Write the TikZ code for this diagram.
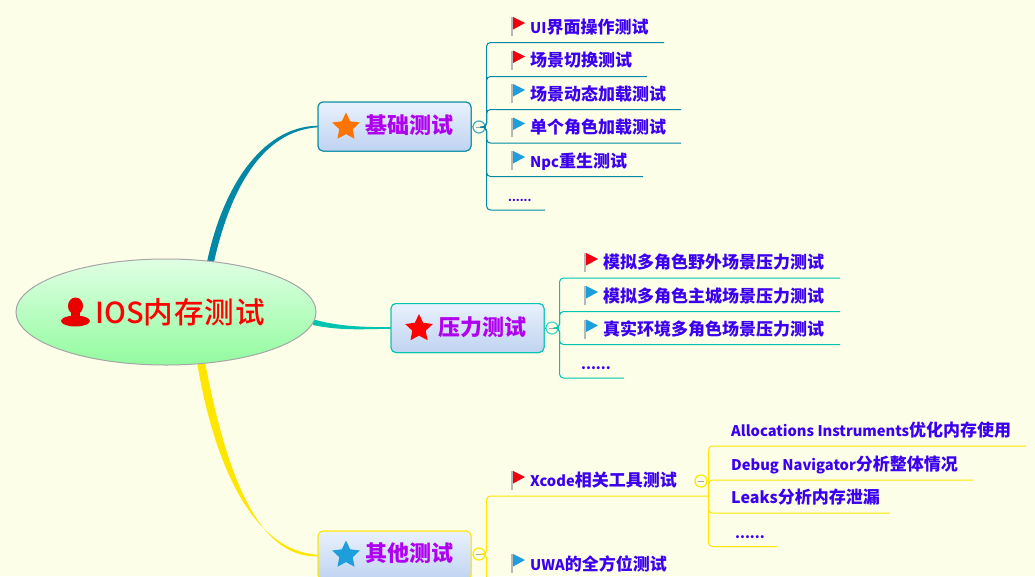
\documentclass[tikz,border=0pt]{standalone}
\usepackage{fontspec}
\setmainfont{Noto Sans CJK SC}
\newfontfamily\rootfont[LetterSpace=3]{Noto Sans CJK SC Medium}
\newfontfamily\rootlat{Noto Sans CJK SC Medium}
\usetikzlibrary{shapes.geometric}
\definecolor{bgc}{HTML}{FCFEE8}
\definecolor{cblue}{HTML}{0088A6}
\definecolor{cteal}{HTML}{00C4B0}
\definecolor{cyel}{HTML}{FFE600}
\definecolor{itemc}{HTML}{3C00F0}
\definecolor{topicc}{HTML}{B000F0}
\definecolor{flagb}{HTML}{1E9FDB}
\definecolor{flagr}{HTML}{F00010}
\definecolor{rtop}{HTML}{E0FFE4}
\definecolor{rbot}{HTML}{92FB9F}
\definecolor{boxt}{HTML}{E9F1FD}
\definecolor{boxb}{HTML}{BFD3F0}
\tikzset{
  rootnode/.style={ellipse,draw=black!35,line width=1pt,minimum width=300pt,minimum height=106pt,inner sep=0pt,top color=rtop,bottom color=rbot},
  topic/.style={draw=#1,line width=1pt,rounded corners=5pt,top color=boxt,bottom color=boxb,
    minimum width=153pt,minimum height=49pt,inner sep=0pt},
  toptext/.style={anchor=base west,inner sep=0pt,text=topicc,font=\fontsize{22pt}{22pt}\selectfont\bfseries},
  item/.style={anchor=base west,inner sep=0pt,text=itemc,font=\fontsize{17pt}{17pt}\selectfont\bfseries},
  starn/.style={star,star points=5,star point ratio=2.05,minimum size=29pt,inner sep=0pt,fill=#1},
  coll/.style={circle,draw=#1,line width=1.2pt,fill=bgc,minimum size=12pt,inner sep=0pt,
    path picture={\fill[black!35] (path picture bounding box.center) +(-3,-.5) rectangle +(3,.5);}},
  tree/.style={draw=#1,line width=1pt,rounded corners=4pt},
}
\newcommand{\lat}[1]{{\fontsize{14.7pt}{15pt}\selectfont #1}}
\newcommand{\flagmark}[3]{% x, y top, colour
  \fill[black!28] (#1-0.3,#2) rectangle (#1+1.6,#2+19);
  \fill[#3] (#1+1.6,#2) -- (#1+13.5,#2+6) -- (#1+1.6,#2+12.5) -- cycle;
}
\begin{document}
\begin{tikzpicture}[x=1pt,y=-1pt]
\clip (0,0) rectangle (1035,576);
\fill[bgc] (0,0) rectangle (1035,576);
% free ends of the connectors
\coordinate (r1a) at (207,262); \coordinate (r1b) at (214,262);
\coordinate (r2a) at (312,319); \coordinate (r2b) at (313,325);
\coordinate (r3a) at (197,362); \coordinate (r3b) at (205,362);
% topics
\node[topic=cblue] (b1) at (394.5,126.5) {};
\node[topic=cteal] (b2) at (467.5,328) {};
\node[topic=cyel] (b3) at (394.5,555.5) {};
\coordinate (b1u) at ([yshift=.8pt]b1.west); \coordinate (b1d) at ([yshift=-.8pt]b1.west);
\coordinate (b2u) at ([yshift=.8pt]b2.west); \coordinate (b2d) at ([yshift=-.8pt]b2.west);
\coordinate (b3u) at ([yshift=.8pt]b3.west); \coordinate (b3d) at ([yshift=-.8pt]b3.west);
\fill[cblue] (r1a) .. controls (222,190) and (260,127) .. (b1u) -- (b1d) .. controls (262,131) and (230,190) .. (r1b) -- cycle;
\fill[cteal] (r2a) .. controls (340,327) and (365,327) .. (b2u) -- (b2d) .. controls (365,329) and (340,331) .. (r2b) -- cycle;
\fill[cyel] (r3a) .. controls (215,470) and (255,551) .. (b3u) -- (b3d) .. controls (257,558) and (226,472) .. (r3b) -- cycle;
\node[rootnode] (root) at (166,312) {};
\node[topic=cblue] at (b1) {};
\node[topic=cteal] at (b2) {};
\node[topic=cyel] at (b3) {};
% root label
\fill[red!92!black] (75.5,306) ellipse (7.5 and 8.5);
\fill[red!92!black] (75.5,321) ellipse (14.5 and 5.5);
\fill[red!92!black] (71,310) rectangle (80,318);
\node[anchor=base west,inner sep=0pt,text=red,font=\fontsize{29.6pt}{30pt}\selectfont\rootfont] (rt) at (95,323) {{\rootlat\fontsize{29pt}{29pt}\selectfont IOS}内存测试};
% topic labels
\node[starn=orange!90!red] (s1) at (346,127) {};
\node[toptext] (t1) at (365,133) {基础测试};
\node[starn=red] (s2) at (419,328.5) {};
\node[toptext] (t2) at (438,335) {压力测试};
\node[starn=flagb] (s3) at (346,555) {};
\node[toptext] (t3) at (365,561) {其他测试};
% collapse marks and junctions
\node[coll=cblue!70] (c1) at (479,127) {};
\node[coll=cteal!70] (c2) at (552,328) {};
\node[coll=cyel] (c3) at (479,554) {};
\node[coll=cyel] (c4) at (701,481) {};
\coordinate (j1) at (486.5,127); \coordinate (j2) at (559.5,328);
\coordinate (j3) at (486.5,554); \coordinate (j4) at (708.5,496);
\draw[cblue,line width=1pt] (b1.east) -- (c1);
\draw[cteal,line width=1pt] (b2.east) -- (c2);
\draw[cyel,line width=1pt] (b3.east) -- (c3);
% item ends
\coordinate (e11) at (664,42.5); \coordinate (e12) at (647,76.5); \coordinate (e13) at (681,109.5);
\coordinate (e14) at (681,143); \coordinate (e15) at (643,176.5); \coordinate (e16) at (545,210);
\coordinate (e21) at (840,278); \coordinate (e22) at (840,311.5); \coordinate (e23) at (840,344.5); \coordinate (e24) at (624,378);
\coordinate (e31) at (708.5,496); \coordinate (e32) at (640,590);
\coordinate (e41) at (1026,446); \coordinate (e42) at (973,480); \coordinate (e43) at (890,513); \coordinate (e44) at (777,546.5);
\foreach \e in {e11,e12,e13,e14,e15,e16} \draw[tree=cblue] (c1.east) -- (j1) |- (\e);
\foreach \e in {e21,e22,e23,e24} \draw[tree=cteal] (c2.east) -- (j2) |- (\e);
\foreach \e in {e31,e32} \draw[tree=cyel] (c3.east) -- (j3) |- (\e);
\foreach \e in {e41,e42,e43,e44} \draw[tree=cyel] (j4) |- (\e);
% items
\flagmark{511.5}{17}{flagr}\node[item] (i11) at (530,33.5) {\lat{UI}界面操作测试};
\flagmark{511.5}{50.5}{flagr}\node[item] (i12) at (530,66.5) {场景切换测试};
\flagmark{511.5}{84}{flagb}\node[item] (i13) at (530,100) {场景动态加载测试};
\flagmark{511.5}{117.5}{flagb}\node[item] (i14) at (530,133.5) {单个角色加载测试};
\flagmark{511.5}{151}{flagb}\node[item] (i15) at (530,167) {\lat{Npc}重生测试};
\node[item,font=\fontsize{11pt}{11pt}\selectfont\bfseries] (i16) at (508,201) {......};
\flagmark{584.5}{253}{flagr}\node[item] (i21) at (603,268.5) {模拟多角色野外场景压力测试};
\flagmark{584.5}{286}{flagb}\node[item] (i22) at (603,302) {模拟多角色主城场景压力测试};
\flagmark{584.5}{319.5}{flagb}\node[item] (i23) at (603,335.5) {真实环境多角色场景压力测试};
\node[item,font=\fontsize{14pt}{14pt}\selectfont\bfseries] (i24) at (581,369) {......};
\flagmark{511.5}{471}{flagr}\node[item] (i31) at (530,486.5) {\lat{Xcode}相关工具测试};
\flagmark{511.5}{554}{flagb}\node[item] (i32) at (530,570.5) {\lat{UWA}的全方位测试};
\node[item] (i41) at (731,436.5) {\lat{Allocations Instruments}优化内存使用};
\node[item] (i42) at (731,470.5) {\lat{Debug Navigator}分析整体情况};
\node[item] (i43) at (731,503.5) {{\fontsize{16pt}{16pt}\selectfont Leaks}分析内存泄漏};
\node[item,font=\fontsize{14pt}{14pt}\selectfont\bfseries] (i44) at (735,538) {......};
\end{tikzpicture}
\end{document}
